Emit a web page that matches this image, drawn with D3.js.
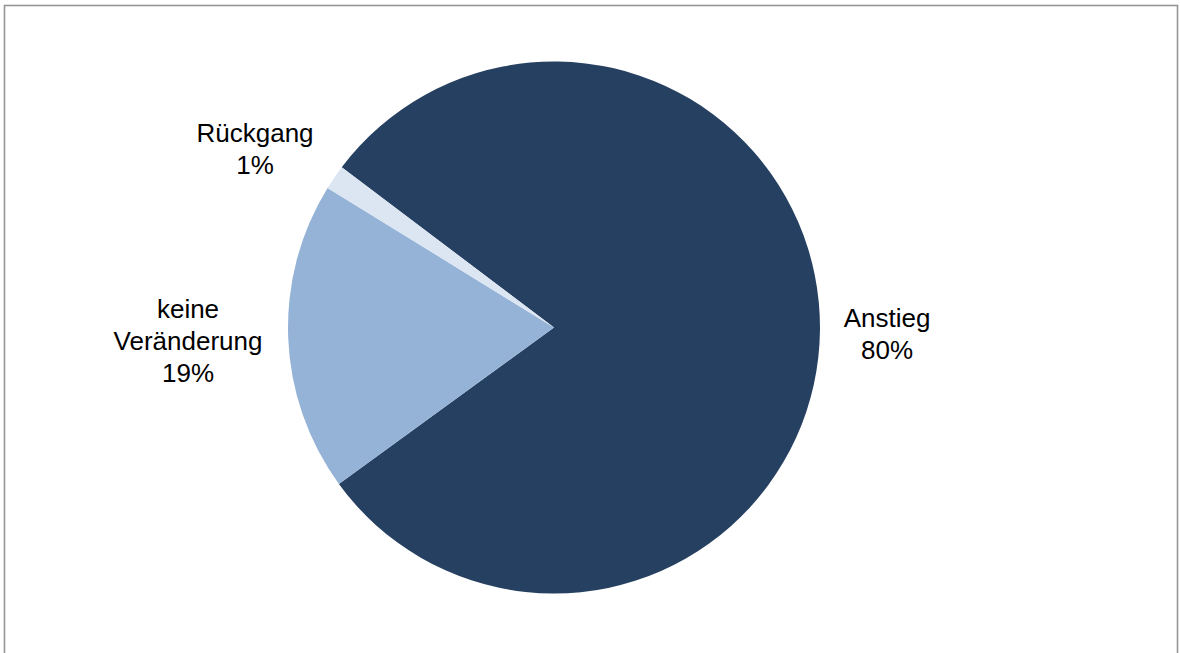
<!DOCTYPE html>
<html>
<head>
<meta charset="utf-8">
<script src="https://cdn.jsdelivr.net/npm/d3@7"></script>
<style>
  html, body { margin: 0; padding: 0; background: #fff; }
  svg { display: block; }
</style>
</head>
<body>
<svg id="chart" width="1180" height="653"></svg>
<script>
const categories = ["Anstieg", "keine Veränderung", "Rückgang"];
const values = [79.7, 18.8, 1.5];
const percentLabels = ["80%", "19%", "1%"];
const labelLines = [["Anstieg"], ["keine", "Veränderung"], ["Rückgang"]];
const colors = ["#264061", "#95B3D7", "#DCE6F2"];

const svg = d3.select("#chart");
const W = 1180, H = 653;

svg.append("rect")
  .attr("x", 4.5).attr("y", 5.5)
  .attr("width", 1173).attr("height", 700)
  .attr("fill", "#fff")
  .attr("stroke", "#969696")
  .attr("stroke-width", 1.6);

const cx = 554, cy = 327.5, r = 266;
const startDeg = 307.05;

const pie = d3.pie().sort(null).value(d => d.v)
  .startAngle(startDeg * Math.PI / 180)
  .endAngle((startDeg + 360) * Math.PI / 180);

const data = categories.map((c, i) => ({ c, v: values[i], i }));
const arcs = pie(data);
const arc = d3.arc().innerRadius(0).outerRadius(r);

const g = svg.append("g").attr("transform", `translate(${cx},${cy})`);
g.selectAll("path").data(arcs).enter().append("path")
  .attr("d", arc)
  .attr("fill", d => colors[d.data.i]);

// label anchor positions (relative to centre), placed outside slices
const labelPos = [
  { x: 887 - cx, y: 327 - cy },
  { x: 188 - cx, y: 318 - cy },
  { x: 255 - cx, y: 142 - cy }
];
const lineH = 32;

const labels = svg.append("g")
  .attr("transform", `translate(${cx},${cy})`)
  .attr("font-family", "Liberation Sans, Arial, sans-serif")
  .attr("font-size", 26)
  .attr("fill", "#000")
  .attr("text-anchor", "middle");

arcs.forEach((a, k) => {
  const i = a.data.i;
  const lines = labelLines[i].concat([percentLabels[i]]);
  const t = labels.append("text")
    .attr("x", labelPos[i].x).attr("y", labelPos[i].y);
  lines.forEach((ln, j) => {
    t.append("tspan")
      .attr("x", labelPos[i].x)
      .attr("dy", j === 0 ? 0 : lineH)
      .text(ln);
  });
});
</script>
</body>
</html>
